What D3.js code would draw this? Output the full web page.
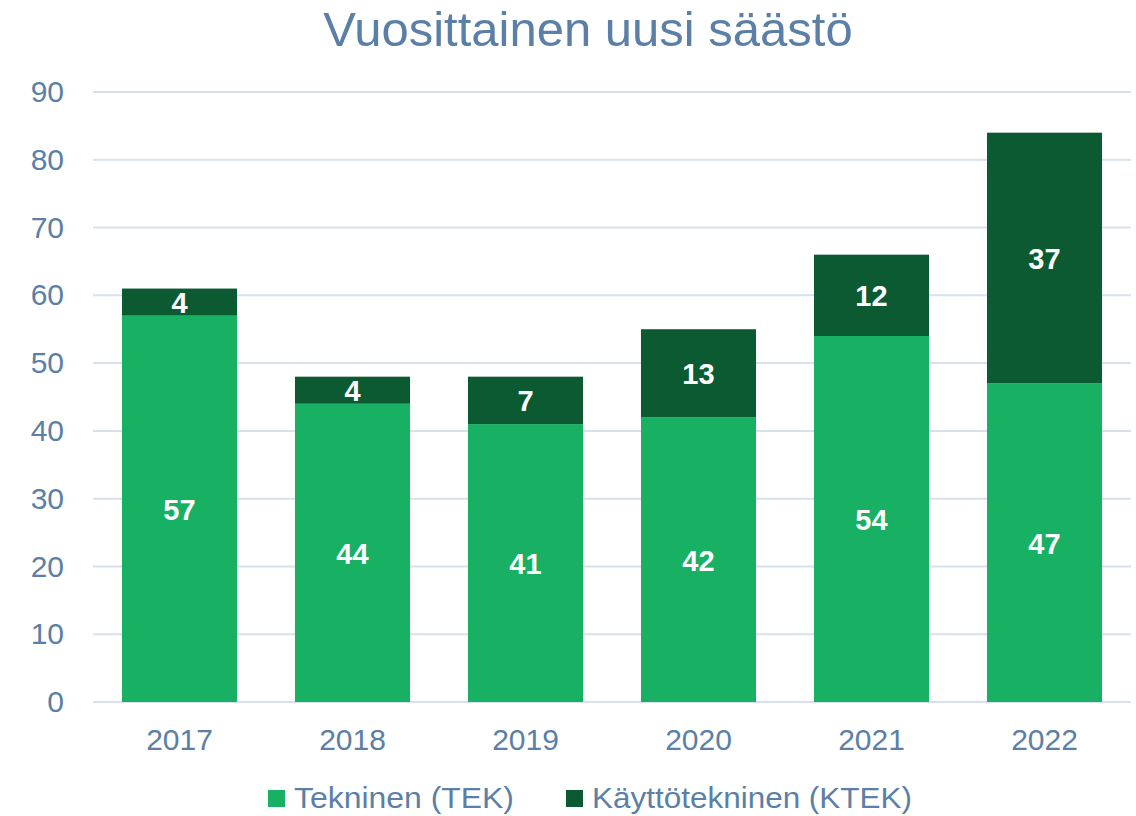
<!DOCTYPE html>
<html>
<head>
<meta charset="utf-8">
<script src="https://cdn.jsdelivr.net/npm/d3@7"></script>
<style>
  body { margin: 0; background: #fff; }
  text { font-family: "Liberation Sans", Arial, sans-serif; }
</style>
</head>
<body>
<svg id="chart" width="1136" height="816"></svg>
<script>
var years = ["2017", "2018", "2019", "2020", "2021", "2022"];
var tek = [57, 44, 41, 42, 54, 47];
var ktek = [4, 4, 7, 13, 12, 37];
var seriesNames = ["Tekninen (TEK)", "Käyttötekninen (KTEK)"];
var colors = ["#18b063", "#0c5a32"];
var yTicks = [0, 10, 20, 30, 40, 50, 60, 70, 80, 90];

var textColor = "#5b7fa6";
var margin = { top: 92, right: 5, bottom: 114, left: 93 },
    width = 1136 - margin.left - margin.right,
    height = 816 - margin.top - margin.bottom;

var svg = d3.select("#chart");

svg.append("text")
    .attr("x", 588)
    .attr("y", 46)
    .attr("text-anchor", "middle")
    .attr("fill", textColor)
    .style("font-size", "49px")
    .text("Vuosittainen uusi säästö");

var g = svg.append("g")
    .attr("transform", "translate(" + margin.left + "," + margin.top + ")");

var x = d3.scaleBand()
    .domain(years)
    .range([0, width])
    .paddingInner(0.335)
    .paddingOuter(0.1675);

var y = d3.scaleLinear()
    .domain([0, 90])
    .range([height, 0]);

// grid lines
g.selectAll(".grid")
    .data(yTicks)
    .enter().append("line")
    .attr("x1", 0)
    .attr("x2", width)
    .attr("y1", function (d) { return y(d); })
    .attr("y2", function (d) { return y(d); })
    .attr("stroke", "#d9e1ec")
    .attr("stroke-width", 2);

// y axis labels
var yAxis = g.append("g")
    .call(d3.axisLeft(y).tickValues(yTicks).tickSize(0).tickPadding(29));
yAxis.select(".domain").remove();
yAxis.selectAll("text")
    .attr("fill", textColor)
    .style("font-size", "30px")
    .style("font-family", "Liberation Sans, Arial, sans-serif");

// x axis labels
var xAxis = g.append("g")
    .attr("transform", "translate(0," + height + ")")
    .call(d3.axisBottom(x).tickSize(0).tickPadding(27));
xAxis.select(".domain").remove();
xAxis.selectAll("text")
    .attr("fill", textColor)
    .style("font-size", "30px")
    .style("font-family", "Liberation Sans, Arial, sans-serif");

// stacked data
var data = years.map(function (yr, i) {
    return { year: yr, tek: tek[i], ktek: ktek[i] };
});
var stack = d3.stack().keys(["tek", "ktek"]);
var layers = stack(data);

layers.forEach(function (layer, li) {
    var lg = g.append("g");
    lg.selectAll("rect")
        .data(layer)
        .enter().append("rect")
        .attr("x", function (d) { return x(d.data.year); })
        .attr("width", x.bandwidth())
        .attr("y", function (d) { return y(d[1]); })
        .attr("height", function (d) { return y(d[0]) - y(d[1]); })
        .attr("fill", colors[li]);

    lg.selectAll("text")
        .data(layer)
        .enter().append("text")
        .attr("x", function (d) { return x(d.data.year) + x.bandwidth() / 2; })
        .attr("y", function (d) { return y((d[0] + d[1]) / 2); })
        .attr("dy", "0.38em")
        .attr("text-anchor", "middle")
        .attr("fill", "#fff")
        .style("font-size", "29px")
        .style("font-weight", "bold")
        .text(function (d) { return d[1] - d[0]; });
});

// legend
var legendX = [268, 566];
var legend = svg.append("g");
seriesNames.forEach(function (name, i) {
    legend.append("rect")
        .attr("x", legendX[i])
        .attr("y", 790)
        .attr("width", 17)
        .attr("height", 17)
        .attr("fill", colors[i]);
    legend.append("text")
        .attr("x", legendX[i] + 26)
        .attr("y", 808)
        .attr("fill", textColor)
        .style("font-size", "30px")
        .attr("textLength", i === 0 ? 220 : 320)
        .attr("lengthAdjust", "spacingAndGlyphs")
        .text(name);
});
</script>
</body>
</html>
